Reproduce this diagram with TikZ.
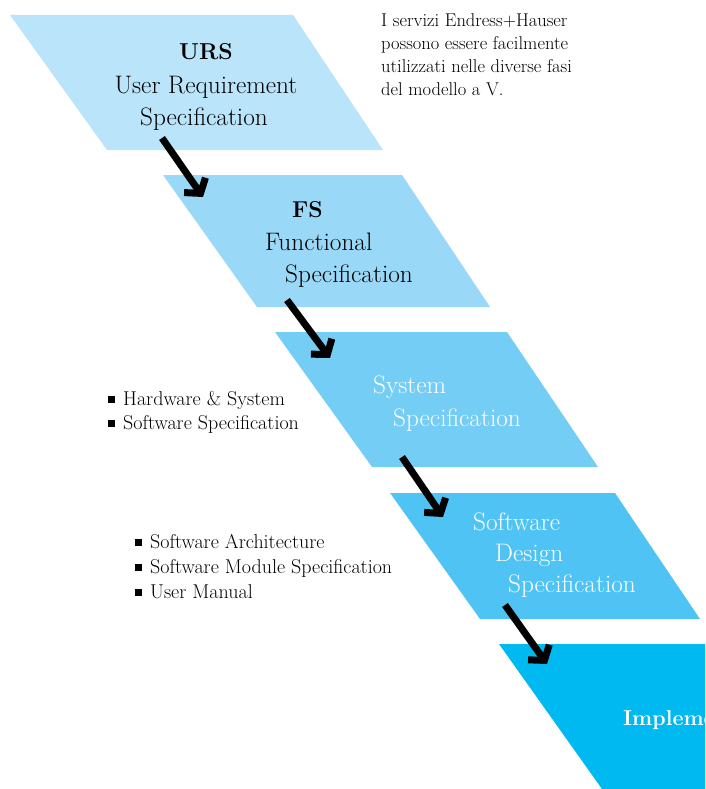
\documentclass[tikz,border=0pt]{standalone}
\usepackage{fontspec}
\usetikzlibrary{arrows.meta}

% phase colours, lightest to strongest
\definecolor{phaseA}{HTML}{B9E4F9}
\definecolor{phaseB}{HTML}{99D8F7}
\definecolor{phaseC}{HTML}{74CDF5}
\definecolor{phaseD}{HTML}{4FC4F4}
\definecolor{phaseE}{HTML}{00B9F1}

\newcommand{\bigtxt}{\fontsize{25.3}{25.3}\selectfont}
\newcommand{\headtxt}{\fontsize{23}{23}\selectfont\bfseries}
\newcommand{\impltxt}{\fontsize{21.5}{21.5}\selectfont\bfseries}
\newcommand{\notetxt}{\fontsize{18.5}{18.5}\selectfont}
\newcommand{\listtxt}{\fontsize{20}{20}\selectfont}
\newcommand{\sqbullet}{\raisebox{2pt}{\rule{7pt}{7pt}}\hspace{8pt}}

\begin{document}
\begin{tikzpicture}[x=1pt,y=-1pt,
  lbl/.style={inner sep=0pt, anchor=base west},
  bodytext/.style={lbl, font=\bigtxt},
  headtext/.style={lbl, font=\headtxt},
  whitetext/.style={bodytext, text=white},
  notetext/.style={lbl, font=\notetxt},
  listtext/.style={lbl, font=\listtxt},
  flow/.style={line width=7pt, line cap=butt,
    -{Straight Barb[length=10pt, width=26pt]}}]
\useasboundingbox (0,0) rectangle (705,789);
\clip (0,0) rectangle (705,789);

% the five phases of the V-model, stepping down to the right
\fill[phaseA] (10,15)  -- (293,15)  -- (383,150) -- (107,150) -- cycle;
\fill[phaseB] (163,175) -- (402,175) -- (490,307) -- (257,307) -- cycle;
\fill[phaseC] (275,332) -- (507,332) -- (598,467) -- (372,467) -- cycle;
\fill[phaseD] (390,493) -- (615,493) -- (700,619) -- (480,619) -- cycle;
\fill[phaseE] (499,644) -- (820,644) -- (920,789) -- (602,789) -- cycle;

% phase labels
\node[headtext, anchor=base] (urs) at (206,60) {URS};
\node[bodytext, anchor=base] (urs1) at (206,94) {User Requirement};
\node[bodytext, anchor=base] (urs2) at (204,125) {Specification};

\node[headtext] (fs) at (292,217) {FS};
\node[bodytext] (fs1) at (265,250) {Functional};
\node[bodytext] (fs2) at (285,282) {Specification};

\node[whitetext] (sys1) at (373,393) {System};
\node[whitetext] (sys2) at (393,426) {Specification};

\node[whitetext] (sd1) at (473,530) {Software};
\node[whitetext] (sd2) at (495,561) {Design};
\node[whitetext] (sd3) at (508,592) {Specification};

\node[lbl, font=\impltxt, text=white] (impl) at (623,725) {Implementation};

% note in the upper right corner
\node[notetext] (n1) at (381,27) {I servizi Endress+Hauser};
\node[notetext] (n2) at (381,50) {possono essere facilmente};
\node[notetext] (n3) at (381,73) {utilizzati nelle diverse fasi};
\node[notetext] (n4) at (381,96) {del modello a V.};

% deliverables of the system and design phases
\node[listtext] (la1) at (108,405) {\sqbullet Hardware \& System};
\node[listtext] (la2) at (108,429) {\sqbullet Software Specification};

\node[listtext] (lb1) at (135,548) {\sqbullet Software Architecture};
\node[listtext] (lb2) at (135,573) {\sqbullet Software Module Specification};
\node[listtext] (lb3) at (135,598) {\sqbullet User Manual};

% arrow end points between consecutive phases
\coordinate (ursOut) at (162,138);
\coordinate (fsIn)   at (203,197);
\coordinate (fsOut)  at (287,300);
\coordinate (sysIn)  at (330,358);
\coordinate (sysOut) at (402,457);
\coordinate (sdIn)   at (443,517);
\coordinate (sdOut)  at (505,605);
\coordinate (implIn) at (547,664);

\draw[flow] (ursOut) -- (fsIn);
\draw[flow] (fsOut) -- (sysIn);
\draw[flow] (sysOut) -- (sdIn);
\draw[flow] (sdOut) -- (implIn);
\end{tikzpicture}
\end{document}
